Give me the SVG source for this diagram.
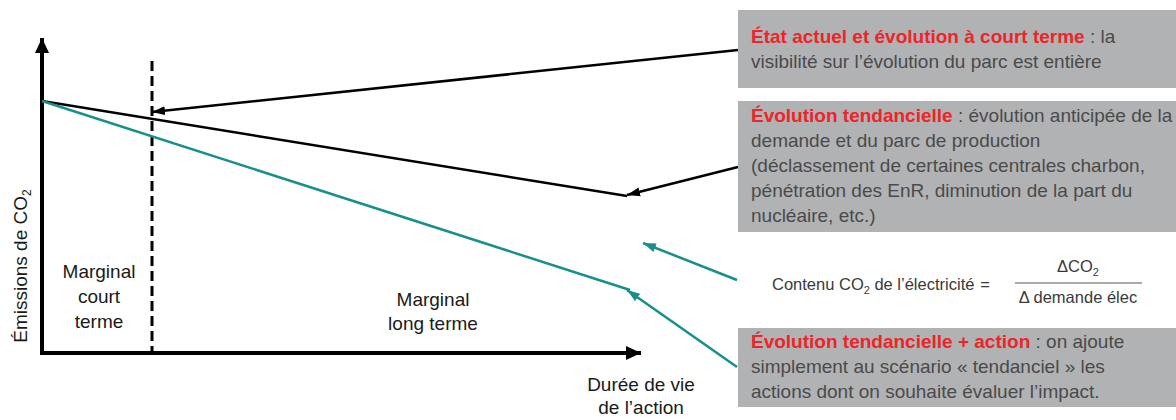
<svg xmlns="http://www.w3.org/2000/svg" width="1176" height="420" viewBox="0 0 1176 420">
<style>
text{font-family:"Liberation Sans",Arial,sans-serif;}
.box{fill:#b1b2b4;}
.bt{font-size:19px;fill:#4a4a4a;}
.red{fill:#ee2428;font-weight:bold;}
.lbl{font-size:19px;fill:#1a1a1a;text-anchor:middle;}
.fm{font-size:16.5px;fill:#3a3a3a;}
.blk{stroke:#000;stroke-width:2.5;fill:none;}
.teal{stroke:#17908b;stroke-width:2.5;fill:none;}
.axis{stroke:#000;stroke-width:4;fill:none;}
</style>
<defs>
<marker id="ab" markerUnits="userSpaceOnUse" markerWidth="14" markerHeight="10" refX="13" refY="5" orient="auto"><path d="M0,0.5 L13,5 L0,9.5 z" fill="#000"/></marker>
<marker id="at" markerUnits="userSpaceOnUse" markerWidth="14" markerHeight="10" refX="13" refY="5" orient="auto"><path d="M0,0.5 L13,5 L0,9.5 z" fill="#17908b"/></marker>
<marker id="ax" markerUnits="userSpaceOnUse" markerWidth="16" markerHeight="14" refX="15" refY="7" orient="auto"><path d="M0,0 L15,7 L0,14 z" fill="#000"/></marker>
</defs>
<rect width="1176" height="420" fill="#fff"/>

<g id="chart">
<line class="axis" x1="42" y1="355" x2="42" y2="38" marker-end="url(#ax)"/>
<line class="axis" x1="40" y1="353" x2="641" y2="353" marker-end="url(#ax)"/>
<line x1="152" y1="61" x2="152" y2="353" stroke="#000" stroke-width="3" stroke-dasharray="10,5"/>
<line class="blk" x1="42" y1="101" x2="627" y2="196"/>
<line class="teal" x1="42" y1="101" x2="630" y2="290"/>
<text class="lbl" transform="translate(27,266) rotate(-90)">Émissions de CO<tspan font-size="12" dy="4">2</tspan></text>
<text class="lbl" x="99" y="278">Marginal</text>
<text class="lbl" x="99" y="303">court</text>
<text class="lbl" x="99" y="328">terme</text>
<text class="lbl" x="433" y="306">Marginal</text>
<text class="lbl" x="433" y="330">long terme</text>
<text class="lbl" x="641" y="391" font-size="20">Durée de vie</text>
<text class="lbl" x="641" y="414" font-size="20">de l’action</text>
</g>

<g id="connectors">
<line class="blk" x1="738" y1="50" x2="152" y2="112" marker-end="url(#ab)"/>
<line class="blk" x1="738" y1="167" x2="627" y2="195" marker-end="url(#ab)"/>
<line class="teal" x1="737" y1="280" x2="643" y2="243" marker-end="url(#at)"/>
<line class="teal" x1="737" y1="367" x2="627" y2="290" marker-end="url(#at)"/>
</g>

<g id="box-etat">
<rect class="box" x="738" y="10" width="438" height="78"/>
<text class="bt" x="751" y="43"><tspan class="red">État actuel et évolution à court terme</tspan> : la</text>
<text class="bt" x="751" y="68">visibilité sur l’évolution du parc est entière</text>
</g>

<g id="box-tendancielle">
<rect class="box" x="738" y="101" width="438" height="131"/>
<text class="bt" x="751" y="122"><tspan class="red">Évolution tendancielle</tspan> : évolution anticipée de la</text>
<text class="bt" x="751" y="147">demande et du parc de production</text>
<text class="bt" x="751" y="172">(déclassement de certaines centrales charbon,</text>
<text class="bt" x="751" y="197">pénétration des EnR, diminution de la part du</text>
<text class="bt" x="751" y="222">nucléaire, etc.)</text>
</g>

<g id="formula">
<text class="fm" x="772" y="290">Contenu CO<tspan font-size="11" dy="4">2</tspan><tspan dy="-4"> de l’électricité</tspan></text>
<text class="fm" x="985" y="290" text-anchor="middle" font-size="20">=</text>
<text class="fm" x="1078" y="272" text-anchor="middle" font-size="17">ΔCO<tspan font-size="11" dy="4">2</tspan></text>
<line x1="1015" y1="283" x2="1142" y2="283" stroke="#555" stroke-width="1.2"/>
<text class="fm" x="1078" y="303" text-anchor="middle" font-size="17">Δ demande élec</text>
</g>

<g id="box-action">
<rect class="box" x="738" y="328" width="438" height="79"/>
<text class="bt" x="751" y="348"><tspan class="red">Évolution tendancielle + action</tspan> : on ajoute</text>
<text class="bt" x="751" y="373">simplement au scénario « tendanciel » les</text>
<text class="bt" x="751" y="398">actions dont on souhaite évaluer l’impact.</text>
</g>
</svg>
